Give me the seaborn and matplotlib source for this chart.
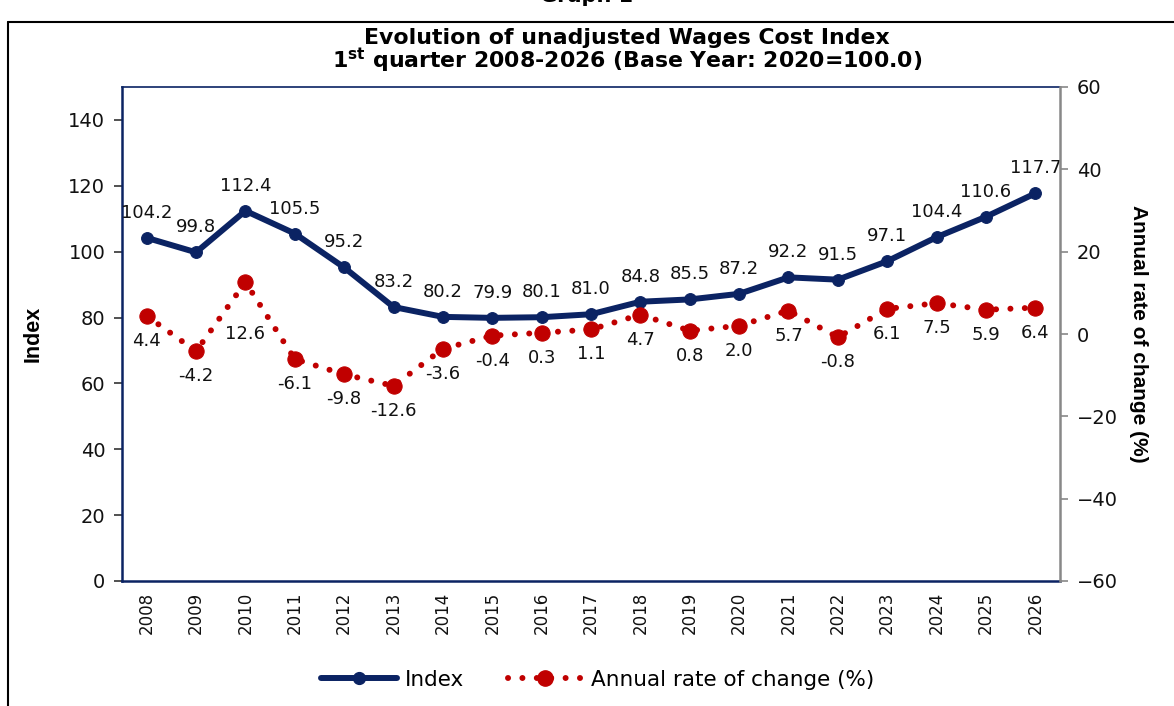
import matplotlib
matplotlib.use("Agg")
from matplotlib import pyplot as plt
from matplotlib.lines import Line2D
import pandas as pd
import seaborn as sns

# Wages cost index, 1st quarter of each year
years = list(range(2008, 2027))
index_values = [104.2, 99.8, 112.4, 105.5, 95.2, 83.2, 80.2, 79.9, 80.1, 81.0,
                84.8, 85.5, 87.2, 92.2, 91.5, 97.1, 104.4, 110.6, 117.7]
rate_values = [4.4, -4.2, 12.6, -6.1, -9.8, -12.6, -3.6, -0.4, 0.3, 1.1,
               4.7, 0.8, 2.0, 5.7, -0.8, 6.1, 7.5, 5.9, 6.4]

df = pd.DataFrame({"Year": years, "Index": index_values, "Rate": rate_values})

navy = "#0B2363"
red = "#C00000"
dotted = (0, (0.01, 2.4))

sns.set_style("white")
plt.rcParams['font.family'] = ['DejaVu Sans']
plt.rcParams['mathtext.fontset'] = 'dejavusans'
plt.rcParams['text.color'] = 'black'

fig = plt.figure(figsize=(11.74, 7.06), dpi=100)
ax = fig.add_axes([122 / 1174, 1 - 581 / 706, (1060 - 122) / 1174, (581 - 87) / 706])
ax2 = ax.twinx()

sns.lineplot(data=df, x="Year", y="Index", ax=ax, color=navy, linewidth=4.3,
             marker="o", markersize=8.5, markeredgecolor=navy, zorder=3)
sns.lineplot(data=df, x="Year", y="Rate", ax=ax2, color=red, linewidth=4.3,
             linestyle=dotted, marker="o", markersize=11, markeredgecolor=red)
for ln in ax2.lines:
    ln.set_dash_capstyle("round")

ax.set_xlim(years[0] - 0.5, years[-1] + 0.5)
ax.set_ylim(0, 150)
ax2.set_ylim(-60, 60)
ax.set_yticks(range(0, 141, 20))
ax2.set_yticks(range(-60, 61, 20))
ax.set_xticks(years)
ax.set_xticklabels([str(y) for y in years], rotation=90)
ax.set_xticks([y + 0.5 for y in [years[0] - 1] + years], minor=True)
ax.tick_params(axis="x", which="major", length=0, pad=8, labelsize=12, labelcolor="#111111")
ax.tick_params(axis="x", which="minor", length=6, width=1.2, color="#333333", direction="out")
ax.tick_params(axis="y", length=6, width=1.2, color="#333333", direction="out",
               labelsize=14, pad=6, labelcolor="#111111")
ax2.tick_params(axis="y", length=6, width=1.2, color="#888888", direction="out",
                labelsize=14, pad=6, labelcolor="#111111")

ax.set_xlabel("")
ax.set_ylabel("Index", fontsize=15.5, fontweight="bold", family=['Liberation Sans'],
              labelpad=18, color="black")
ax2.set_ylabel("Annual rate of change (%)", fontsize=15, fontweight="bold",
               family=['Liberation Sans'], rotation=270, labelpad=22, color="black")

for s in ["left", "bottom", "top"]:
    ax.spines[s].set_color(navy)
    ax.spines[s].set_linewidth(1.8)
ax.spines["top"].set_linewidth(1.2)
ax.spines["right"].set_visible(False)
ax2.spines["right"].set_color("#888888")
ax2.spines["right"].set_linewidth(1.8)
for s in ["left", "bottom", "top"]:
    ax2.spines[s].set_visible(False)

# value labels: index above, rate below (2010 rate label pushed further down)
for x, v in zip(years, index_values):
    ax.annotate(f"{v:.1f}", (x, v), xytext=(0, 18), textcoords="offset points",
                ha="center", va="center", fontsize=13, color="#111111")
rate_offsets = {2010: -37}
for x, v in zip(years, rate_values):
    ax2.annotate(f"{v:.1f}", (x, v), xytext=(0, rate_offsets.get(x, -18)), textcoords="offset points",
                 ha="center", va="center", fontsize=13, color="#111111")

fig.text(627 / 1174, 1 - 38 / 706, "Evolution of unadjusted Wages Cost Index",
         ha="center", va="center", fontsize=15.8, fontweight="bold")
fig.text(627 / 1174, 1 - 61 / 706, r"1$^{\mathbf{st}}$ quarter 2008-2026 (Base Year: 2020=100.0)",
         ha="center", va="center", fontsize=15.8, fontweight="bold")
fig.text(587 / 1174, 1 + 4 / 706, "Graph 1", ha="center", va="center", fontsize=15, fontweight="bold")

# outer frame
fig.add_artist(Line2D([8 / 1174, 8 / 1174], [0, 1 - 22 / 706], color="black", linewidth=1.5))
fig.add_artist(Line2D([8 / 1174, 1], [1 - 22 / 706, 1 - 22 / 706], color="black", linewidth=1.5))

handles = [
    Line2D([0], [0], color=navy, linewidth=4.3, marker="o", markersize=8.5),
    Line2D([0], [0], color=red, linewidth=4.3, linestyle=dotted, dash_capstyle="round",
           marker="o", markersize=11),
]
fig.legend(handles, ["Index", "Annual rate of change (%)"], loc="center",
           bbox_to_anchor=(598 / 1174, 1 - 680 / 706), ncol=2, frameon=False,
           prop={"family": "DejaVu Sans", "size": 15.5}, handlelength=3.5, columnspacing=2.0,
           handletextpad=0.4)

fig.savefig("out.png", dpi=100)
